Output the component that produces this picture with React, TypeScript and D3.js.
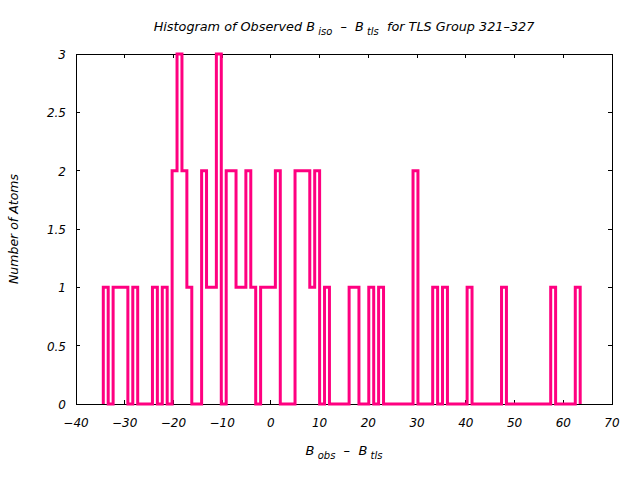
import React from "react";
import * as d3 from "d3";

// Histogram data
const binStart = -34.4;
const binWidth = 1.009;
const counts = [
  1, 0, 1, 1, 1, 0, 1, 0, 0, 0,
  1, 0, 1, 0, 2, 3, 2, 1, 0, 0,
  2, 1, 1, 3, 0, 2, 2, 1, 1, 2,
  1, 0, 1, 1, 1, 2, 0, 0, 0, 2,
  2, 2, 1, 2, 0, 1, 0, 0, 0, 0,
  1, 1, 0, 0, 1, 0, 1, 0, 0, 0,
  0, 0, 0, 2, 0, 0, 0, 1, 0, 1,
  0, 0, 0, 0, 1, 0, 0, 0, 0, 0,
  0, 1, 0, 0, 0, 0, 0, 0, 0, 0,
  0, 1, 0, 0, 0, 0, 1,
];
const xTicks = [-40, -30, -20, -10, 0, 10, 20, 30, 40, 50, 60, 70];
const yTicks = [0, 0.5, 1, 1.5, 2, 2.5, 3];
const xDomain = [-40, 70];
const yDomain = [0, 3];

const W = 640;
const H = 480;
const M = { left: 76, right: 612, top: 54, bottom: 404 };
const FONT = "'DejaVu Sans', sans-serif";
const LINE_COLOR = "#ff0080";

export default function App() {
  const x = d3.scaleLinear().domain(xDomain).range([M.left, M.right]);
  const y = d3.scaleLinear().domain(yDomain).range([M.bottom, M.top]);

  const pts: [number, number][] = [[binStart, 0]];
  counts.forEach((c, i) => pts.push([binStart + i * binWidth, c]));
  pts.push([binStart + counts.length * binWidth, 0]);
  const line = d3
    .line<[number, number]>()
    .x((d) => x(d[0]))
    .y((d) => y(d[1]))
    .curve(d3.curveStepAfter);

  const fmt = (v: number) => (v < 0 ? "\u2212" + Math.abs(v) : String(v));
  const tickLen = 4;
  const cx = (M.left + M.right) / 2;
  const cy = (M.top + M.bottom) / 2;

  return (
    <svg
      width={W}
      height={H}
      style={{ position: "absolute", left: 0, top: 0, background: "#fff" }}
      fontFamily={FONT}
    >
      <rect x={0} y={0} width={W} height={H} fill="#fff" />
      {/* ticks */}
      <g stroke="#000" strokeWidth={1} shapeRendering="crispEdges">
        {xTicks.map((t) => (
          <g key={"xt" + t}>
            <line x1={x(t)} x2={x(t)} y1={M.bottom} y2={M.bottom - tickLen} />
            <line x1={x(t)} x2={x(t)} y1={M.top} y2={M.top + tickLen} />
          </g>
        ))}
        {yTicks.map((t) => (
          <g key={"yt" + t}>
            <line x1={M.left} x2={M.left + tickLen} y1={y(t)} y2={y(t)} />
            <line x1={M.right} x2={M.right - tickLen} y1={y(t)} y2={y(t)} />
          </g>
        ))}
        <rect
          x={M.left}
          y={M.top}
          width={M.right - M.left}
          height={M.bottom - M.top}
          fill="none"
        />
      </g>
      {/* histogram */}
      <path d={line(pts) || ""} fill="none" stroke={LINE_COLOR} strokeWidth={3} strokeLinejoin="miter" />
      {/* tick labels */}
      <g fontSize={12} fontStyle="italic" fill="#000">
        {xTicks.map((t) => (
          <text key={"xl" + t} x={x(t)} y={M.bottom + 23} textAnchor="middle">
            {fmt(t)}
          </text>
        ))}
        {yTicks.map((t) => (
          <text key={"yl" + t} x={M.left - 10} y={y(t) + 5} textAnchor="end">
            {fmt(t)}
          </text>
        ))}
      </g>
      {/* axis labels */}
      <g fontSize={12.5} fontStyle="italic" fill="#000">
        <text x={cx} y={455} textAnchor="middle" fontSize={13} xmlSpace="preserve">
          <tspan>B</tspan>
          <tspan fontSize={10} dy={4}> obs</tspan>
          <tspan dy={-4}>{"  \u2013  "}B</tspan>
          <tspan fontSize={10} dy={4}> tls</tspan>
        </text>
        <text transform={`translate(18,${cy}) rotate(-90)`} textAnchor="middle">
          Number of Atoms
        </text>
        <text x={cx} y={31} textAnchor="middle" fontSize={12.8} xmlSpace="preserve">
          <tspan>Histogram of Observed B</tspan>
          <tspan fontSize={10} dy={4}> iso</tspan>
          <tspan dy={-4}>{"  \u2013  "}B</tspan>
          <tspan fontSize={10} dy={4}> tls</tspan>
          <tspan dy={-4}>{"  for TLS Group 321\u2013327"}</tspan>
        </text>
      </g>
    </svg>
  );
}
